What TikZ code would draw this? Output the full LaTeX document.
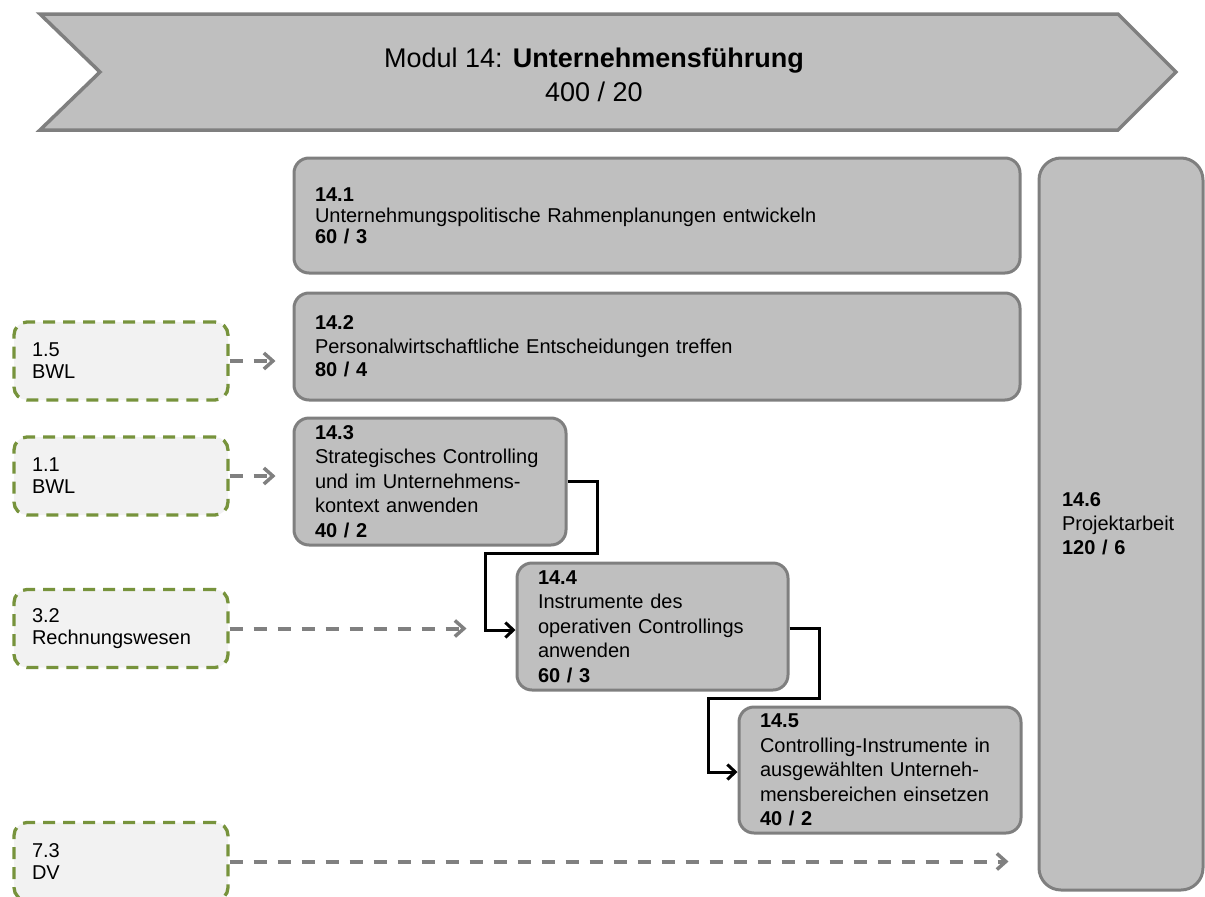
\documentclass[tikz,border=0pt]{standalone}
\usepackage{fontspec}
\setmainfont{Liberation Sans}
\usetikzlibrary{arrows.meta}

\definecolor{boxfill}{HTML}{BFBFBF}
\definecolor{boxline}{HTML}{7F7F7F}
\definecolor{reffill}{HTML}{F2F2F2}
\definecolor{refline}{HTML}{77933C}
\definecolor{depline}{HTML}{808080}

\tikzset{
  lh/.style={font=\fontsize{20}{#1}\selectfont},
  unitbox/.style={draw=boxline, fill=boxfill, line width=3pt,
    rounded corners=15pt, align=left, inner xsep=21pt, inner ysep=0pt},
  refbox/.style={draw=refline, fill=reffill, line width=3.3pt,
    dash pattern=on 12pt off 8pt, rounded corners=13pt, align=left,
    inner xsep=18pt, inner ysep=0pt, minimum width=214pt, text width=178pt,
    minimum height=78pt, lh=22pt},
  dep/.style={draw=depline, line width=4pt, dash pattern=on 13pt off 11pt,
    -{Straight Barb[length=9pt,width=16pt,line width=3.5pt]}},
  flow/.style={draw=black, line width=3pt,
    -{Straight Barb[length=8pt,width=15pt,line width=3pt]}},
  banner/.style={draw=boxline, fill=boxfill, line width=3.5pt, line join=miter}
}

\begin{document}
\begin{tikzpicture}[x=1pt,y=-1pt]
\useasboundingbox (0,0) rectangle (1205,897);

% module banner
\draw[banner] (40,14) -- (1118,14) -- (1176,72) -- (1118,130) -- (40,130) -- (100,72) -- cycle;
\node[align=center, font=\fontsize{27}{34}\selectfont] (title) at (594,75)
  {Modul 14: \textbf{Unternehmensführung}\\400 / 20};

% module units
\node[unitbox, lh=21pt, minimum width=726pt, text width=684pt, minimum height=115pt]
  (n141) at (657,215.5)
  {\textbf{14.1}\\Unternehmungspolitische Rahmenplanungen entwickeln\\\textbf{60 / 3}};
\node[unitbox, lh=23.5pt, minimum width=726pt, text width=684pt, minimum height=107pt]
  (n142) at (657,346.5)
  {\textbf{14.2}\\Personalwirtschaftliche Entscheidungen treffen\\\textbf{80 / 4}};
\node[unitbox, lh=24.5pt, minimum width=272pt, text width=230pt, minimum height=127pt]
  (n143) at (430,481.5)
  {\textbf{14.3}\\Strategisches Controlling\\und im Unternehmens-\\kontext anwenden\\\textbf{40 / 2}};
\node[unitbox, lh=24.5pt, minimum width=271pt, text width=229pt, minimum height=127pt]
  (n144) at (652.5,626.5)
  {\textbf{14.4}\\Instrumente des\\operativen Controllings\\anwenden\\\textbf{60 / 3}};
\node[unitbox, lh=24.5pt, minimum width=282pt, text width=240pt, minimum height=126pt]
  (n145) at (880,770)
  {\textbf{14.5}\\Controlling-Instrumente in\\ausgewählten Unterneh-\\\mbox{mensbereichen einsetzen}\\\textbf{40 / 2}};
\node[unitbox, lh=24pt, rounded corners=22pt, inner xsep=23pt, minimum width=164pt,
  text width=118pt, minimum height=732pt]
  (n146) at (1121,524)
  {\textbf{14.6}\\Projektarbeit\\\textbf{120 / 6}};

% prerequisite units from other modules
\node[refbox] (r15) at (121,361)   {1.5\\BWL};
\node[refbox] (r11) at (121,476)   {1.1\\BWL};
\node[refbox] (r32) at (121,628.5) {3.2\\Rechnungswesen};
\node[refbox] (r73) at (121,861.5) {7.3\\DV};

% prerequisite links
\draw[dep, shorten >=17pt] (r15.east) -- (n142.west |- r15.east);
\draw[dep, shorten >=17pt] (r11.east) -- (n143.west |- r11.east);
\draw[dep, shorten >=49pt] (r32.east) -- (n144.west |- r32.east);
\draw[dep, shorten >=29pt] (r73.east) -- (n146.west |- r73.east);

% sequence of the controlling units
\draw[flow] (n143.east) -- (597,481.5) -- (597,553) -- (485.5,553) -- (485.5,630)
  -- (n144.west |- 0,630);
\draw[flow] (n144.east |- 0,628) -- (819,628) -- (819,698) -- (708,698) -- (708,772)
  -- (n145.west |- 0,772);
\end{tikzpicture}
\end{document}
